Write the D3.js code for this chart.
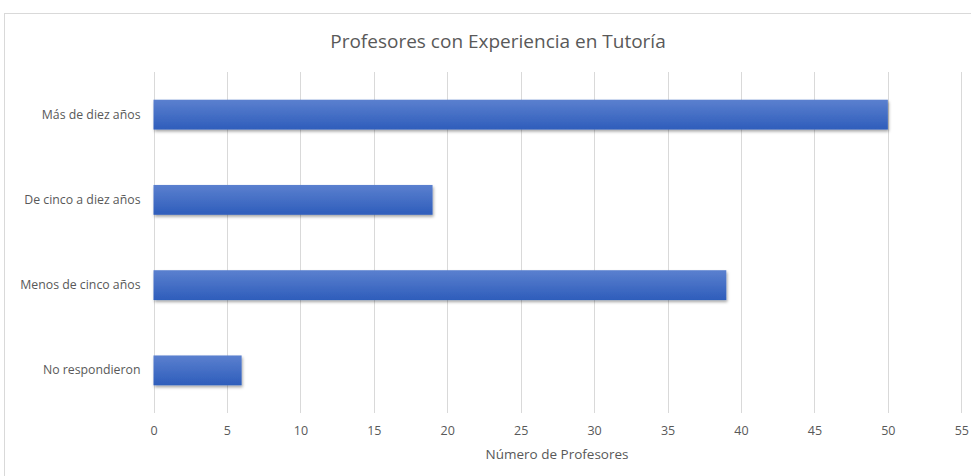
<!DOCTYPE html>
<html>
<head>
<meta charset="utf-8">
<script src="https://cdn.jsdelivr.net/npm/d3@7"></script>
<style>
  body { margin: 0; background: #fff; }
  text { font-family: "Open Sans", "Noto Sans", sans-serif; fill: #595959; }
</style>
</head>
<body>
<div id="chart"></div>
<script>
// data
var categories = ["Más de diez años", "De cinco a diez años", "Menos de cinco años", "No respondieron"];
var values = [50, 19, 39, 6];
var xTicks = [0, 5, 10, 15, 20, 25, 30, 35, 40, 45, 50, 55];

var W = 971, H = 476;
var plot = { left: 153.5, right: 961.3, top: 72, bottom: 413 };

var svg = d3.select("#chart").append("svg")
  .attr("width", W)
  .attr("height", H);

var defs = svg.append("defs");
var grad = defs.append("linearGradient")
  .attr("id", "barGrad")
  .attr("x1", 0).attr("y1", 0).attr("x2", 0).attr("y2", 1);
grad.append("stop").attr("offset", "0%").attr("stop-color", "#5b80cf");
grad.append("stop").attr("offset", "100%").attr("stop-color", "#2e5dbb");

var shadow = defs.append("filter").attr("id", "shadow")
  .attr("x", "-5%").attr("y", "-20%").attr("width", "110%").attr("height", "160%");
shadow.append("feDropShadow")
  .attr("dx", 1).attr("dy", 2).attr("stdDeviation", 1.5)
  .attr("flood-color", "#000").attr("flood-opacity", 0.35);

// chart border
svg.append("rect")
  .attr("x", 4.5).attr("y", 13.5)
  .attr("width", 1000).attr("height", 500)
  .attr("fill", "#fff")
  .attr("stroke", "#d9d9d9");

var x = d3.scaleLinear().domain([0, 55]).range([plot.left, plot.right]);
var y = d3.scaleBand().domain(categories).range([plot.top, plot.bottom]).paddingInner(0.65).paddingOuter(0.325);

// gridlines
svg.append("g")
  .selectAll("line")
  .data(xTicks)
  .enter()
  .append("line")
  .attr("x1", function (d) { return Math.round(x(d)) + 0.5; })
  .attr("x2", function (d) { return Math.round(x(d)) + 0.5; })
  .attr("y1", plot.top)
  .attr("y2", plot.bottom)
  .attr("stroke", "#d9d9d9")
  .attr("stroke-width", 1);

// bars
svg.append("g")
  .selectAll("rect")
  .data(values)
  .enter()
  .append("rect")
  .attr("x", x(0))
  .attr("y", function (d, i) { return y(categories[i]); })
  .attr("width", function (d) { return x(d) - x(0); })
  .attr("height", y.bandwidth())
  .attr("fill", "url(#barGrad)")
  .attr("filter", "url(#shadow)");

// x axis labels
var xAxis = svg.append("g")
  .attr("transform", "translate(0," + plot.bottom + ")")
  .call(d3.axisBottom(x).tickValues(xTicks).tickSize(0).tickPadding(13));
xAxis.select(".domain").remove();
xAxis.selectAll("text")
  .style("font-size", "12.5px")
  .style("fill", "#595959")
  .style("font-family", "'Open Sans', sans-serif");

// y axis labels
var yAxis = svg.append("g")
  .attr("transform", "translate(" + plot.left + ",0)")
  .call(d3.axisLeft(y).tickSize(0).tickPadding(13));
yAxis.select(".domain").remove();
yAxis.selectAll("text")
  .style("font-size", "12.3px")
  .style("fill", "#595959")
  .style("font-family", "'Open Sans', sans-serif");

// title
svg.append("text")
  .attr("x", 498)
  .attr("y", 48)
  .attr("text-anchor", "middle")
  .style("font-size", "19px")
  .text("Profesores con Experiencia en Tutoría");

// x axis title
svg.append("text")
  .attr("x", 557)
  .attr("y", 459)
  .attr("text-anchor", "middle")
  .style("font-size", "13.5px")
  .text("Número de Profesores");
</script>
</body>
</html>
